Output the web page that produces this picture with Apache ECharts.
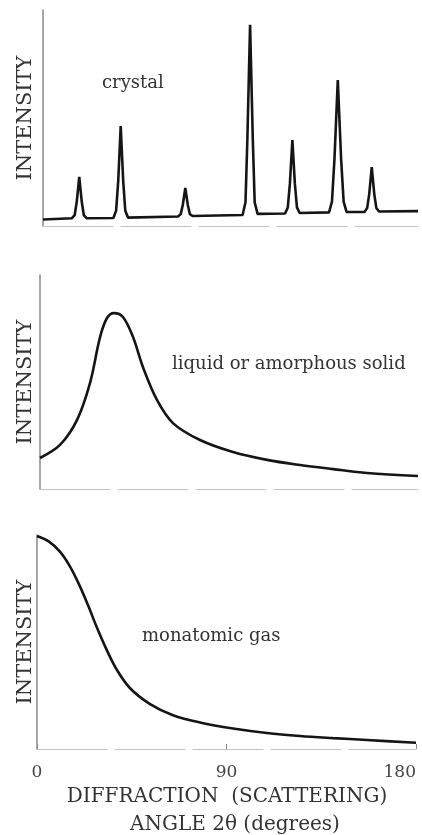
<!DOCTYPE html>
<html>
<head>
<meta charset="utf-8">
<script src="https://cdn.jsdelivr.net/npm/echarts@6/dist/echarts.min.js"></script>
<style>
html,body{margin:0;padding:0;background:#fff;overflow:hidden;}
#chart{width:422px;height:835px;}
</style>
</head>
<body>
<div id="chart"></div>
<script>
// Diffraction angle 2θ (degrees) vs relative intensity
const crystalAngle = [0,
  13.9, 15.2, 16.2, 17.4, 18.6, 19.6, 20.9,
  33.8, 35.1, 36.1, 37.3, 38.5, 39.5, 40.8,
  64.8, 66.1, 67.1, 68.3, 69.5, 70.5, 71.8,
  95.8, 97.2, 98.1, 99.4, 100.7, 101.6, 103.0,
  116.2, 117.5, 118.5, 119.7, 120.9, 121.9, 123.2,
  137.3, 138.7, 139.9, 141.5, 143.1, 144.3, 145.7,
  154.3, 155.6, 156.6, 157.8, 159.0, 160.0, 161.3,
  180];
const crystalIntensity = [3.0,
  3.6, 5.0, 11.2, 22.7, 11.2, 5.0, 3.6,
  3.7, 7.1, 20.7, 46.3, 20.7, 7.1, 3.9,
  4.4, 5.5, 9.7, 17.6, 9.7, 5.5, 4.6,
  5.1, 11.0, 40.3, 93.1, 40.3, 11.0, 5.6,
  5.8, 8.6, 19.5, 39.8, 19.5, 8.6, 6.0,
  6.3, 11.3, 30.9, 67.6, 30.9, 11.3, 6.5,
  6.5, 8.3, 14.9, 27.3, 14.9, 8.3, 6.7,
  6.9];

const liquidAngle = [0, 9.5, 17.6, 23.8, 28.6, 31.9, 35.2, 39.5, 44.3, 49.0, 55.7, 63.3, 76.2, 91.9, 108.1, 123.8, 139.5, 155.7, 180];
const liquidIntensity = [14.5, 20.6, 32.2, 49.5, 71.0, 79.9, 82.2, 80.4, 71.0, 57.0, 41.6, 30.8, 22.9, 17.3, 13.6, 11.2, 9.3, 7.5, 6.1];

const gasAngle = [0, 5.7, 10.9, 15.7, 20.4, 24.4, 28.3, 33.1, 37.8, 44.2, 53.7, 64.6, 77.4, 93.1, 109.2, 124.9, 140.6, 156.7, 180];
const gasIntensity = [99.5, 96.9, 92.2, 85.2, 76.0, 66.8, 57.1, 46.3, 37.2, 28.4, 21.0, 15.8, 12.4, 9.6, 7.5, 6.1, 5.1, 4.2, 2.9];

const xTicks = [0, 90, 180];
const panelLabels = ['crystal', 'liquid or amorphous solid', 'monatomic gas'];
const yName = 'INTENSITY';
const xNameLines = ['DIFFRACTION  (SCATTERING)', 'ANGLE 2θ (degrees)'];

const pairs = (xs, ys) => xs.map((x, i) => [x, ys[i]]);

const serif = 'DejaVu Serif';
const textColor = '#333';

function xAxisFor(idx, showLabels) {
  return {
    gridIndex: idx, type: 'value', min: 0, max: 180, interval: 90,
    axisLine: { show: true, lineStyle: { color: '#c4c4c4', width: 1, type: [70, 8] } },
    axisTick: { show: showLabels, inside: true, length: 5, lineStyle: { color: '#888' } },
    axisLabel: {
      show: showLabels, fontFamily: serif, fontSize: 17, color: '#444', margin: 15,
      alignMaxLabel: 'right',
      formatter: v => xTicks.includes(v) ? String(v) : ''
    },
    splitLine: { show: false }
  };
}
function yAxisFor(idx, gap) {
  return {
    gridIndex: idx, type: 'value', min: 0, max: 100,
    axisLine: { show: true, lineStyle: { color: '#8a8a8a', width: 1.5 } },
    axisTick: { show: false }, axisLabel: { show: false }, splitLine: { show: false },
    name: yName, nameLocation: 'middle', nameRotate: 90, nameGap: gap,
    nameTextStyle: { fontFamily: serif, fontSize: 21, color: textColor }
  };
}
const lineStyle = { color: '#151515', width: 2.6 };

const option = {
  animation: false,
  backgroundColor: '#fff',
  grid: [
    { left: 43, right: 4, top: 10, height: 216, outerBoundsMode: 'none' },
    { left: 40, right: 4, top: 275, height: 214, outerBoundsMode: 'none' },
    { left: 37, right: 6, top: 535, height: 214, outerBoundsMode: 'none' }
  ],
  xAxis: [xAxisFor(0, false), xAxisFor(1, false), xAxisFor(2, true)],
  yAxis: [yAxisFor(0, 7), yAxisFor(1, 4), yAxisFor(2, 1)],
  series: [
    { type: 'line', xAxisIndex: 0, yAxisIndex: 0, data: pairs(crystalAngle, crystalIntensity), showSymbol: false, smooth: false, lineStyle },
    { type: 'line', xAxisIndex: 1, yAxisIndex: 1, data: pairs(liquidAngle, liquidIntensity), showSymbol: false, smooth: 0.35, lineStyle },
    { type: 'line', xAxisIndex: 2, yAxisIndex: 2, data: pairs(gasAngle, gasIntensity), showSymbol: false, smooth: 0.35, lineStyle }
  ],
  graphic: [
    { type: 'text', left: 102, top: 74, style: { text: panelLabels[0], font: '18px "DejaVu Serif"', fill: textColor } },
    { type: 'text', left: 172, top: 355, style: { text: panelLabels[1], font: '18px "DejaVu Serif"', fill: textColor } },
    { type: 'text', left: 142, top: 627, style: { text: panelLabels[2], font: '18px "DejaVu Serif"', fill: textColor } },
    { type: 'text', x: 227, y: 797, style: { text: xNameLines[0], font: '20px "DejaVu Serif"', fill: textColor, align: 'center', verticalAlign: 'middle' } },
    { type: 'text', x: 235, y: 825, style: { text: xNameLines[1], font: '20px "DejaVu Serif"', fill: textColor, align: 'center', verticalAlign: 'middle' } }
  ]
};
const chart = echarts.init(document.getElementById('chart'), null, { renderer: 'canvas' });
chart.setOption(option);
</script>
</body>
</html>
